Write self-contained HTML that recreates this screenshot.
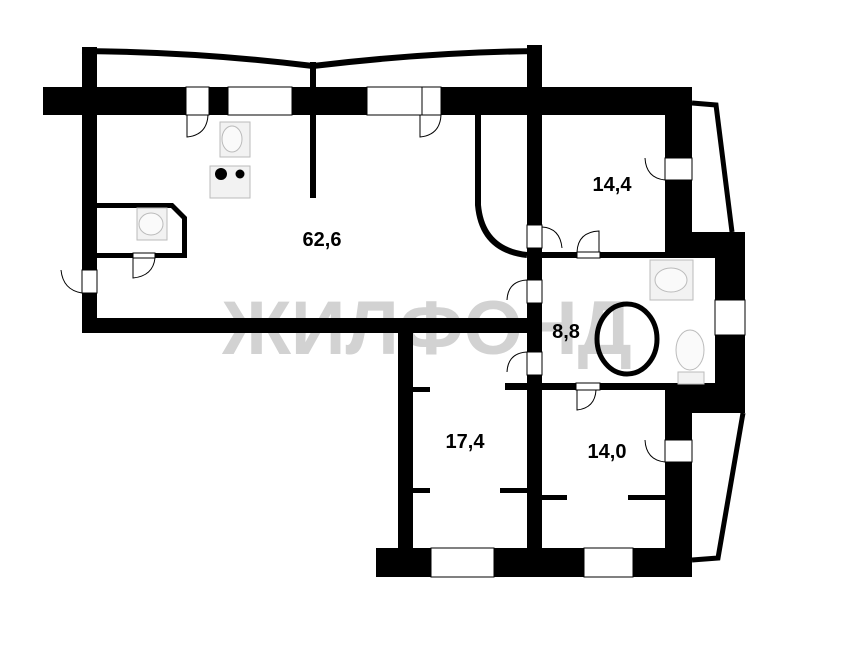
<!DOCTYPE html>
<html><head><meta charset="utf-8"><style>html,body{margin:0;padding:0;background:#fff}svg{display:block}</style></head><body>
<svg width="853" height="663" viewBox="0 0 853 663" xmlns="http://www.w3.org/2000/svg">
<rect width="853" height="663" fill="#fff"/>
<text x="427" y="354" text-anchor="middle" font-family="Liberation Sans, DejaVu Sans, sans-serif" font-weight="bold" font-size="76" fill="#d2d2d2">ЖИЛФОНД</text>
<g fill="#000">
<rect x="43" y="87" width="143" height="28"/>
<rect x="209" y="87" width="19" height="28"/>
<rect x="292" y="87" width="75" height="28"/>
<rect x="441" y="87" width="251" height="28"/>
<rect x="82" y="47" width="15" height="223"/>
<rect x="82" y="293" width="15" height="40"/>
<rect x="82" y="318" width="446" height="15"/>
<rect x="310" y="62" width="6" height="25"/>
<rect x="310" y="115" width="6" height="83"/>
<rect x="527" y="45" width="15" height="42"/>
<rect x="527" y="115" width="15" height="110"/>
<rect x="527" y="248" width="15" height="32"/>
<rect x="527" y="303" width="15" height="49"/>
<rect x="527" y="375" width="15" height="173"/>
<rect x="665" y="115" width="27" height="43"/>
<rect x="665" y="180" width="27" height="78"/>
<rect x="665" y="232" width="80" height="26"/>
<rect x="542" y="252" width="35" height="6"/>
<rect x="600" y="252" width="65" height="6"/>
<rect x="715" y="232" width="30" height="68"/>
<rect x="715" y="335" width="30" height="78"/>
<rect x="665" y="383" width="80" height="30"/>
<rect x="505" y="383" width="71" height="7"/>
<rect x="600" y="383" width="65" height="7"/>
<rect x="665" y="390" width="27" height="50"/>
<rect x="665" y="462" width="27" height="113"/>
<rect x="398" y="333" width="15" height="215"/>
<rect x="413" y="387" width="17" height="5"/>
<rect x="413" y="488" width="17" height="5"/>
<rect x="500" y="488" width="27" height="5"/>
<rect x="542" y="495" width="25" height="5"/>
<rect x="628" y="495" width="37" height="5"/>
<rect x="376" y="548" width="55" height="29"/>
<rect x="494" y="548" width="90" height="29"/>
<rect x="633" y="548" width="59" height="29"/>
<path d="M97 203 H173 L187 217 V258 H155 V253 H182 V219 L171 208 H97 Z"/>
<rect x="97" y="253" width="36" height="5"/>
</g>
<g fill="#fff" stroke="#000" stroke-width="1">
<rect x="186" y="87" width="23" height="28"/><rect x="228" y="87" width="64" height="28"/>
<rect x="367" y="87" width="55" height="28"/><rect x="422" y="87" width="19" height="28"/>
<rect x="665" y="158" width="27" height="22"/><rect x="715" y="300" width="30" height="35"/>
<rect x="665" y="440" width="27" height="22"/><rect x="431" y="548" width="63" height="29"/>
<rect x="584" y="548" width="49" height="29"/><rect x="82" y="270" width="15" height="23"/>
<rect x="527" y="225" width="15" height="23"/><rect x="527" y="280" width="15" height="23"/>
<rect x="527" y="352" width="15" height="23"/><rect x="577" y="252" width="23" height="6"/>
<rect x="576" y="383" width="24" height="7"/><rect x="133" y="253" width="22" height="5"/>
</g>
<g fill="none" stroke="#000">
<path d="M82 51 Q200 52 313 66 Q430 52 540 51" stroke-width="6"/>
<path d="M478 115 V205 Q482 250 527 255" stroke-width="6"/>
<path d="M692 103 L716 105 L732 232" stroke-width="5"/>
<path d="M743 413 L718 558 L692 560" stroke-width="5"/>
<ellipse cx="627" cy="339" rx="30" ry="35" stroke-width="5"/>
</g>
<g fill="none" stroke="#000" stroke-width="1">
<path d="M187 115 V137 Q207 135 208 115"/><path d="M420 115 V137 Q440 135 441 115"/>
<path d="M61 270 Q63 290 82 293"/><path d="M133 258 V278 Q153 276 155 258"/>
<path d="M542 227 Q560 228 562 248"/><path d="M577 252 Q578 232 599 231 V252"/>
<path d="M645 158 Q646 178 665 180"/><path d="M527 280 Q508 281 507 300"/>
<path d="M527 352 Q508 353 507 372"/><path d="M577 390 V410 Q595 408 596 390"/>
<path d="M645 440 Q646 460 665 462"/>
</g>
<g fill="#f2f2f2" stroke="#bbb" stroke-width="1">
<rect x="220" y="122" width="30" height="35"/><ellipse cx="232" cy="139" rx="10" ry="13" fill="#fafafa"/>
<rect x="210" y="166" width="40" height="32"/>
<rect x="137" y="208" width="30" height="32"/><ellipse cx="151" cy="224" rx="12" ry="11" fill="#fafafa"/>
<rect x="650" y="260" width="43" height="40"/><ellipse cx="671" cy="280" rx="16" ry="12" fill="#fafafa"/>
<ellipse cx="690" cy="350" rx="14" ry="20" fill="#fafafa"/><rect x="678" y="372" width="26" height="12"/>
</g>
<circle cx="221" cy="174" r="6"/><circle cx="240" cy="174" r="4.5"/>
<g font-family="Liberation Sans, DejaVu Sans, sans-serif" font-weight="bold" font-size="20" fill="#000" text-anchor="middle">
<text x="322" y="246">62,6</text><text x="612" y="191">14,4</text>
<text x="566" y="338">8,8</text><text x="465" y="448">17,4</text><text x="607" y="458">14,0</text>
</g>
</svg>
</body></html>
